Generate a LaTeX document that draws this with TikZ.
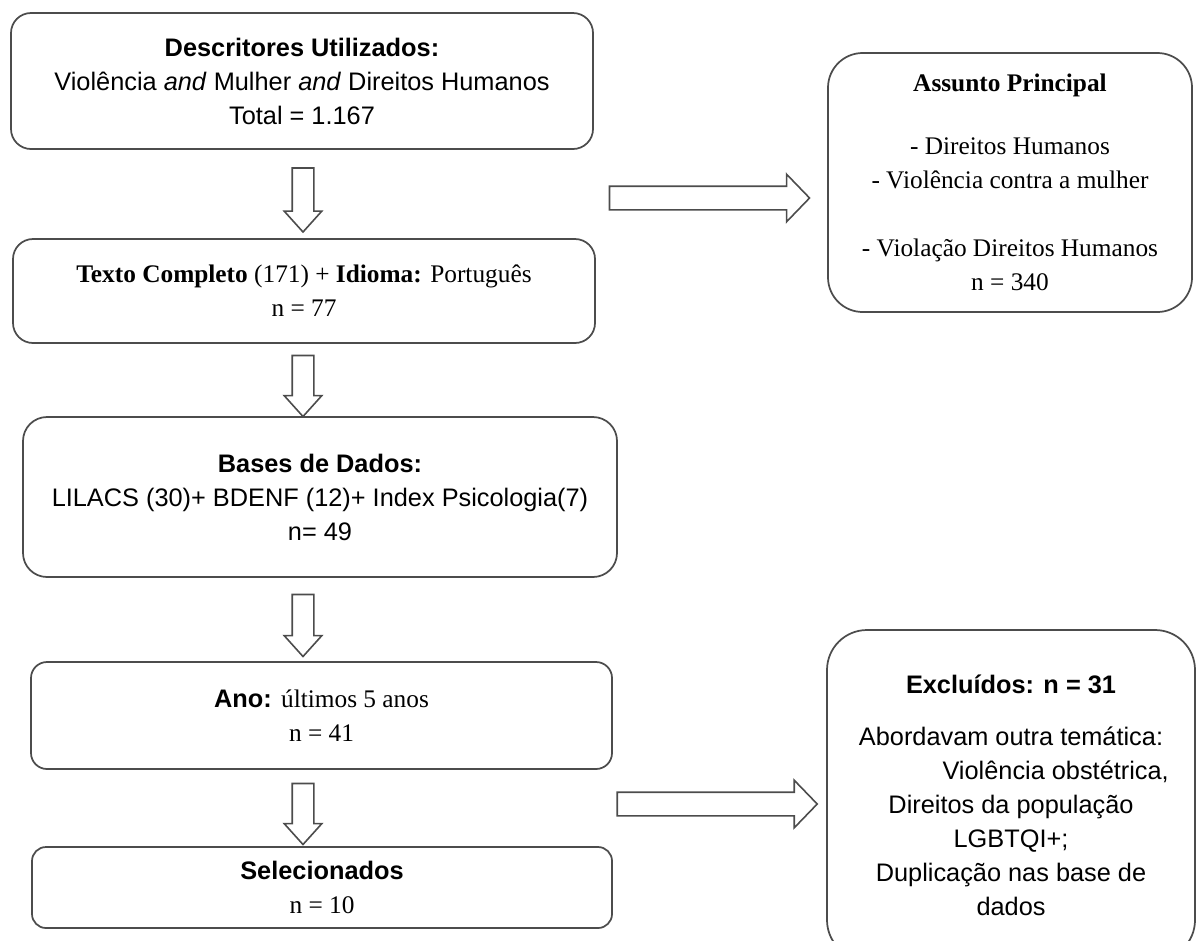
\documentclass[tikz,border=0pt]{standalone}
\usepackage{fontspec}
\setmainfont{Liberation Serif}
\setsansfont{Liberation Sans}
\usetikzlibrary{shapes.arrows,calc}

\tikzset{every picture/.style={line width=0.75pt}}
\tikzset{
  caixa/.style={draw=black!70, line width=1.3pt, rounded corners=#1, align=center, inner sep=0pt, font=\fontsize{19}{25.5}\selectfont\sffamily},
  caixa/.default=15pt,
  serifa/.style={font=\fontsize{19}{25.5}\selectfont\rmfamily},
  setabaixo/.style={draw=black!70, line width=1.2pt, single arrow, rotate=-90, inner xsep=0pt, inner ysep=7.5pt, single arrow head extend=6pt, single arrow tip angle=84, minimum height=#1},
  setadireita/.style={draw=black!70, line width=1.2pt, single arrow, inner xsep=0pt, inner ysep=8.25pt, single arrow head extend=9pt, single arrow tip angle=92, minimum height=150pt},
}

\begin{document}
\begin{tikzpicture}[x=0.75pt,y=0.75pt,yscale=-1,xscale=1]
\clip (0,0) rectangle (1201,940);

%Rounded Rect
\node[caixa=15pt, minimum width=436.5pt, minimum height=102pt] (descritores) at (302,81) {\textbf{Descritores Utilizados:}\\Violência \textit{and} Mulher \textit{and} Direitos Humanos\\Total = 1.167};
%Rounded Rect
\node[caixa=15pt, serifa, minimum width=436.5pt, minimum height=78pt] (texto) at (304,291) {\textbf{Texto Completo} (171) + \textbf{Idioma:} Português\\n = 77};
%Rounded Rect
\node[caixa=18pt, minimum width=445.5pt, minimum height=120pt] (bases) at (320,497) {\textbf{Bases de Dados:}\\LILACS (30)+ BDENF (12)+ Index Psicologia(7)\\n= 49};
%Rounded Rect
\node[caixa=12pt, minimum width=435.75pt, minimum height=80.25pt] (ano) at (321.5,715.5) {\textbf{Ano:} {\rmfamily últimos 5 anos}\\{\rmfamily n = 41}};
%Rounded Rect
\node[caixa=10.5pt, minimum width=435pt, minimum height=60.75pt] (selecionados) at (322,887.5) {\textbf{Selecionados}\\{\rmfamily n = 10}};
%Rounded Rect
\node[caixa=26pt, serifa, minimum width=273pt, minimum height=194.25pt] (assunto) at (1010,182.5) {\textbf{Assunto Principal}\\[21.75pt]- Direitos Humanos\\- Violência contra a mulher\\[25.5pt]- Violação Direitos Humanos\\n = 340};
%Rounded Rect
\node[caixa=30pt, minimum width=276pt, minimum height=247.5pt] (excluidos) at (1011,795) {\textbf{Excluídos: n = 31}\\[13.5pt]Abordavam outra temática:\\\hspace*{67pt}Violência obstétrica,\\Direitos da população\\LGBTQI+;\\Duplicação nas base de\\dados};

%Down Arrows
\node[setabaixo=48pt] (s1) at ($(descritores.south)!0.5!(texto.north)$) {};
\coordinate (m2) at ($(texto.south)!0.5!(bases.north)$);
\node[setabaixo=45.75pt] (s2) at (s1 |- m2) {};
\coordinate (m3) at ($(bases.south)!0.5!(ano.north)$);
\node[setabaixo=46.5pt] (s3) at (s1 |- m3) {};
\coordinate (m4) at ($(ano.south)!0.5!(selecionados.north)$);
\node[setabaixo=45.75pt] (s4) at (s1 |- m4) {};

%Right Arrows
\coordinate (m5) at ($(descritores.east)!0.5!(assunto.west)$);
\node[setadireita, xshift=-5pt] (d1) at (m5 |- 0,198) {};
\coordinate (m6) at ($(ano.east)!0.5!(excluidos.west)$);
\node[setadireita, xshift=-6pt] (d2) at (m6 |- 0,804) {};

\end{tikzpicture}
\end{document}
